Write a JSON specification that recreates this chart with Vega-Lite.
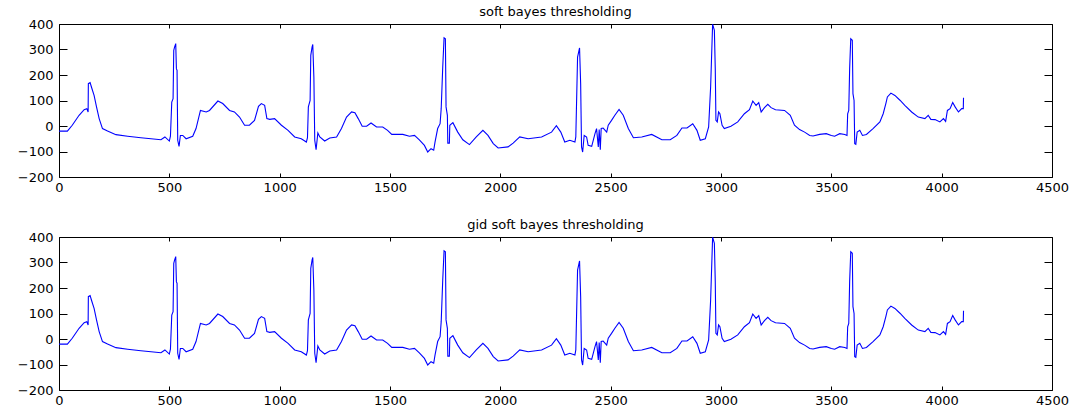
{
 "$schema": "https://vega.github.io/schema/vega-lite/v6.json",
 "background": "white",
 "padding": {"left": 16, "top": 5, "right": 5, "bottom": 0},
 "datasets": {"ecg": [
{"n":0,"v":-20},{"n":38,"v":-20},{"n":60,"v":3},{"n":91,"v":42},{"n":114,"v":64},{"n":126,"v":68},{"n":132,"v":55},{"n":133,"v":166},{"n":141,"v":170},{"n":148,"v":150},{"n":159,"v":120},{"n":170,"v":75},{"n":182,"v":29},{"n":197,"v":-10},{"n":220,"v":-20},{"n":258,"v":-34},{"n":311,"v":-40},{"n":371,"v":-46},{"n":417,"v":-50},{"n":462,"v":-54},{"n":480,"v":-43},{"n":500,"v":-59},{"n":505,"v":-40},{"n":511,"v":94},{"n":517,"v":107},{"n":520,"v":297},{"n":524,"v":310},{"n":529,"v":323},{"n":532,"v":225},{"n":535,"v":218},{"n":538,"v":-56},{"n":544,"v":-80},{"n":550,"v":-37},{"n":561,"v":-37},{"n":576,"v":-50},{"n":606,"v":-40},{"n":621,"v":-10},{"n":641,"v":61},{"n":667,"v":55},{"n":682,"v":61},{"n":720,"v":98},{"n":742,"v":88},{"n":773,"v":61},{"n":795,"v":55},{"n":818,"v":35},{"n":841,"v":3},{"n":863,"v":3},{"n":886,"v":22},{"n":904,"v":77},{"n":917,"v":88},{"n":932,"v":81},{"n":942,"v":29},{"n":955,"v":26},{"n":977,"v":29},{"n":1008,"v":3},{"n":1038,"v":-17},{"n":1068,"v":-43},{"n":1098,"v":-50},{"n":1121,"v":-63},{"n":1126,"v":-46},{"n":1130,"v":75},{"n":1138,"v":100},{"n":1141,"v":277},{"n":1147,"v":310},{"n":1150,"v":320},{"n":1155,"v":192},{"n":1159,"v":-56},{"n":1165,"v":-93},{"n":1173,"v":-27},{"n":1182,"v":-43},{"n":1204,"v":-59},{"n":1227,"v":-47},{"n":1258,"v":-43},{"n":1280,"v":-10},{"n":1303,"v":35},{"n":1326,"v":55},{"n":1341,"v":52},{"n":1356,"v":29},{"n":1374,"v":-1},{"n":1394,"v":-1},{"n":1414,"v":12},{"n":1439,"v":-4},{"n":1467,"v":-4},{"n":1489,"v":-17},{"n":1508,"v":-33},{"n":1558,"v":-33},{"n":1588,"v":-40},{"n":1611,"v":-37},{"n":1633,"v":-54},{"n":1656,"v":-76},{"n":1671,"v":-102},{"n":1686,"v":-89},{"n":1698,"v":-95},{"n":1704,"v":-63},{"n":1716,"v":-10},{"n":1727,"v":9},{"n":1732,"v":68},{"n":1739,"v":231},{"n":1745,"v":346},{"n":1751,"v":342},{"n":1754,"v":75},{"n":1760,"v":42},{"n":1762,"v":-67},{"n":1769,"v":-67},{"n":1771,"v":3},{"n":1785,"v":13},{"n":1807,"v":-24},{"n":1830,"v":-54},{"n":1860,"v":-73},{"n":1891,"v":-43},{"n":1921,"v":-17},{"n":1944,"v":-37},{"n":1968,"v":-69},{"n":1990,"v":-86},{"n":2035,"v":-82},{"n":2058,"v":-67},{"n":2088,"v":-43},{"n":2126,"v":-50},{"n":2187,"v":-43},{"n":2232,"v":-24},{"n":2254,"v":1},{"n":2274,"v":-24},{"n":2292,"v":-63},{"n":2315,"v":-56},{"n":2338,"v":-63},{"n":2342,"v":-43},{"n":2350,"v":270},{"n":2359,"v":306},{"n":2364,"v":166},{"n":2368,"v":-82},{"n":2373,"v":-102},{"n":2380,"v":-37},{"n":2391,"v":-43},{"n":2398,"v":-76},{"n":2414,"v":-80},{"n":2429,"v":-30},{"n":2436,"v":-10},{"n":2444,"v":-82},{"n":2448,"v":-14},{"n":2453,"v":-93},{"n":2457,"v":-10},{"n":2466,"v":-8},{"n":2482,"v":-24},{"n":2489,"v":3},{"n":2504,"v":22},{"n":2519,"v":42},{"n":2538,"v":65},{"n":2557,"v":42},{"n":2580,"v":-10},{"n":2603,"v":-46},{"n":2641,"v":-43},{"n":2686,"v":-33},{"n":2732,"v":-54},{"n":2770,"v":-54},{"n":2800,"v":-37},{"n":2823,"v":-8},{"n":2846,"v":-8},{"n":2872,"v":9},{"n":2891,"v":-17},{"n":2906,"v":-56},{"n":2929,"v":-50},{"n":2944,"v":-4},{"n":2953,"v":153},{"n":2962,"v":399},{"n":2970,"v":375},{"n":2974,"v":225},{"n":2977,"v":22},{"n":2983,"v":16},{"n":2989,"v":55},{"n":2995,"v":48},{"n":3005,"v":3},{"n":3015,"v":-10},{"n":3045,"v":-1},{"n":3076,"v":16},{"n":3106,"v":48},{"n":3129,"v":64},{"n":3144,"v":98},{"n":3159,"v":81},{"n":3171,"v":92},{"n":3182,"v":55},{"n":3197,"v":72},{"n":3212,"v":85},{"n":3227,"v":72},{"n":3247,"v":64},{"n":3288,"v":61},{"n":3314,"v":42},{"n":3333,"v":3},{"n":3356,"v":-14},{"n":3379,"v":-24},{"n":3402,"v":-37},{"n":3417,"v":-39},{"n":3447,"v":-33},{"n":3477,"v":-30},{"n":3500,"v":-37},{"n":3515,"v":-40},{"n":3538,"v":-30},{"n":3561,"v":-33},{"n":3571,"v":-37},{"n":3574,"v":48},{"n":3579,"v":61},{"n":3583,"v":225},{"n":3588,"v":342},{"n":3595,"v":336},{"n":3598,"v":127},{"n":3603,"v":100},{"n":3606,"v":-69},{"n":3611,"v":-72},{"n":3617,"v":-24},{"n":3629,"v":-17},{"n":3641,"v":-37},{"n":3659,"v":-33},{"n":3689,"v":-10},{"n":3720,"v":16},{"n":3735,"v":48},{"n":3747,"v":88},{"n":3754,"v":114},{"n":3770,"v":129},{"n":3788,"v":120},{"n":3811,"v":101},{"n":3833,"v":81},{"n":3864,"v":55},{"n":3894,"v":35},{"n":3924,"v":29},{"n":3939,"v":42},{"n":3951,"v":26},{"n":3970,"v":25},{"n":3992,"v":16},{"n":4008,"v":29},{"n":4018,"v":18},{"n":4026,"v":61},{"n":4038,"v":68},{"n":4050,"v":92},{"n":4061,"v":75},{"n":4076,"v":55},{"n":4091,"v":68},{"n":4098,"v":68},{"n":4099,"v":111}
 ]},
 "config": {
  "view": {"stroke": "black", "strokeWidth": 1},
  "axis": {"grid": false, "domain": false, "tickColor": "black", "tickWidth": 1, "labelColor": "black", "labelFont": "DejaVu Sans", "labelFontSize": 13, "title": null, "format": "d"},
  "title": {"font": "DejaVu Sans", "fontSize": 13, "fontWeight": "normal", "color": "black", "anchor": "middle"},
  "concat": {"spacing": 23}
 },
 "vconcat": [
  {
   "title": {"text": "soft bayes thresholding", "offset": -1},
   "width": 993, "height": 153,
   "data": {"name": "ecg"},
   "layer": [
    {"mark": {"type": "line", "color": "#0000ff", "strokeWidth": 1.1, "clip": true},
     "encoding": {
      "x": {"field": "n", "type": "quantitative", "scale": {"domain": [0, 4500], "nice": false}, "axis": {"orient": "bottom", "values": [0,500,1000,1500,2000,2500,3000,3500,4000,4500], "offset": -4, "tickSize": 4, "labelPadding": 4, "labelFlush": false, "labelOverlap": false}},
      "y": {"field": "v", "type": "quantitative", "scale": {"domain": [-200, 400], "nice": false}, "axis": {"orient": "left", "values": [-200,-100,0,100,200,300,400], "offset": -8, "tickSize": 8, "labelPadding": 6, "labelFlush": false, "labelOverlap": false}}
     }},
    {"mark": {"type": "line", "opacity": 0},
     "encoding": {
      "x": {"field": "n", "type": "quantitative", "scale": {"domain": [0, 4500], "nice": false}, "axis": {"orient": "top", "values": [0,500,1000,1500,2000,2500,3000,3500,4000,4500], "offset": -4, "tickSize": 4, "labels": false}},
      "y": {"field": "v", "type": "quantitative", "scale": {"domain": [-200, 400], "nice": false}, "axis": {"orient": "right", "values": [-200,-100,0,100,200,300,400], "offset": -8, "tickSize": 8, "labels": false}}
     }}
   ],
   "resolve": {"axis": {"x": "independent", "y": "independent"}}
  },
  {
   "title": {"text": "gid soft bayes thresholding", "offset": -1},
   "width": 993, "height": 153,
   "data": {"name": "ecg"},
   "layer": [
    {"mark": {"type": "line", "color": "#0000ff", "strokeWidth": 1.1, "clip": true},
     "encoding": {
      "x": {"field": "n", "type": "quantitative", "scale": {"domain": [0, 4500], "nice": false}, "axis": {"orient": "bottom", "values": [0,500,1000,1500,2000,2500,3000,3500,4000,4500], "offset": -4, "tickSize": 4, "labelPadding": 4, "labelFlush": false, "labelOverlap": false}},
      "y": {"field": "v", "type": "quantitative", "scale": {"domain": [-200, 400], "nice": false}, "axis": {"orient": "left", "values": [-200,-100,0,100,200,300,400], "offset": -8, "tickSize": 8, "labelPadding": 6, "labelFlush": false, "labelOverlap": false}}
     }},
    {"mark": {"type": "line", "opacity": 0},
     "encoding": {
      "x": {"field": "n", "type": "quantitative", "scale": {"domain": [0, 4500], "nice": false}, "axis": {"orient": "top", "values": [0,500,1000,1500,2000,2500,3000,3500,4000,4500], "offset": -4, "tickSize": 4, "labels": false}},
      "y": {"field": "v", "type": "quantitative", "scale": {"domain": [-200, 400], "nice": false}, "axis": {"orient": "right", "values": [-200,-100,0,100,200,300,400], "offset": -8, "tickSize": 8, "labels": false}}
     }}
   ],
   "resolve": {"axis": {"x": "independent", "y": "independent"}}
  }
 ]
}
